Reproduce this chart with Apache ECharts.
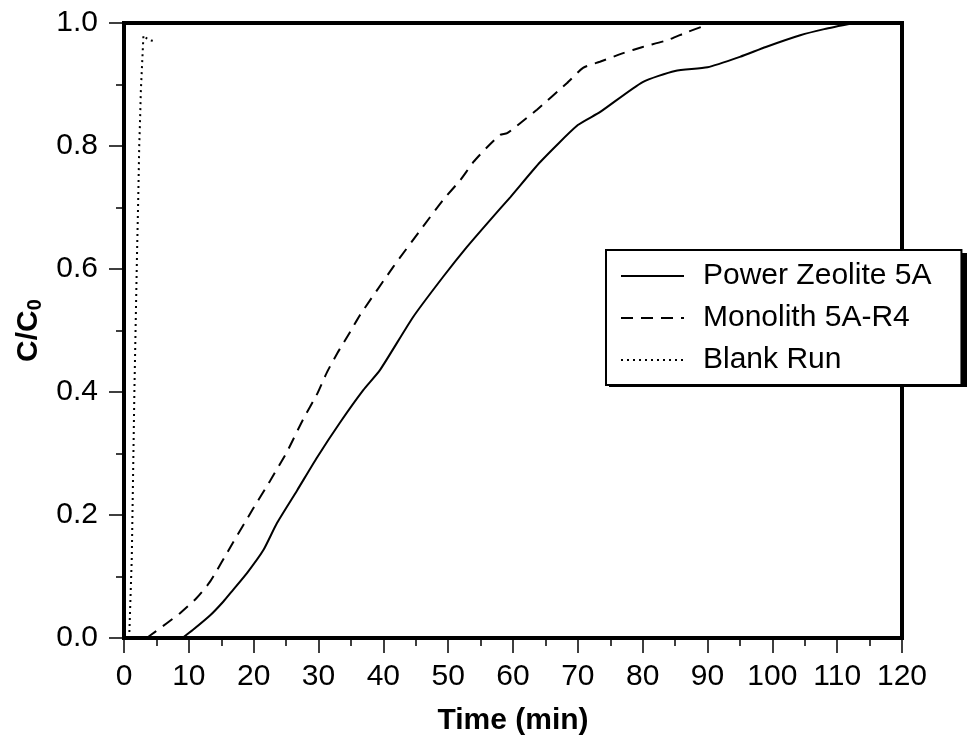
<!DOCTYPE html>
<html>
<head>
<meta charset="utf-8">
<script src="https://cdn.jsdelivr.net/npm/echarts@6/dist/echarts.min.js"></script>
<style>html,body{margin:0;padding:0;background:#fff;}#c{width:971px;height:750px;}</style>
</head>
<body>
<div id="c"></div>
<script>
// Power Zeolite 5A (solid)
const zeoT = [9, 10.6, 13.3, 15.3, 16.8, 19, 21.5, 23.6, 26.7, 29.8, 33.3, 36.9, 39.5, 44.6, 49.2, 52.9, 56.5, 59.6, 64.2, 70, 73.4, 80, 85, 90, 95, 99, 104.3, 108, 112.5];
const zeoY = [0, 0.013, 0.037, 0.059, 0.078, 0.106, 0.143, 0.187, 0.24, 0.294, 0.35, 0.403, 0.436, 0.522, 0.587, 0.636, 0.68, 0.717, 0.774, 0.834, 0.855, 0.904, 0.922, 0.928, 0.945, 0.961, 0.98, 0.99, 1.0];
// Monolith 5A-R4 (dashed)
const monoT = [3.5, 4.8, 6.6, 8.6, 11.2, 13.3, 16.8, 19.9, 22.5, 25.1, 27.6, 29.8, 31.3, 32.9, 34.9, 36.4, 41.5, 45.7, 49.2, 51.9, 53.9, 56, 58, 59.1, 61.1, 63.7, 68.3, 70.8, 73.4, 77, 80, 83.8, 86.8, 89.4, 90.5];
const monoY = [0, 0.01, 0.024, 0.04, 0.065, 0.092, 0.155, 0.21, 0.255, 0.302, 0.355, 0.397, 0.432, 0.463, 0.498, 0.525, 0.603, 0.663, 0.712, 0.745, 0.774, 0.798, 0.818, 0.821, 0.837, 0.859, 0.902, 0.927, 0.937, 0.951, 0.961, 0.972, 0.985, 0.995, 1.0];
// Blank Run (dotted)
const blankT = [0.8, 1.2, 1.6, 2.0, 2.2, 2.35, 2.5, 2.6, 2.8, 3.0, 3.5, 4.0, 4.9];
const blankY = [0, 0.13, 0.40, 0.62, 0.717, 0.80, 0.85, 0.89, 0.935, 0.98, 0.975, 0.972, 0.97];

const seriesNames = ['Power Zeolite 5A', 'Monolith 5A-R4', 'Blank Run'];
const xTicks = [0, 120, 10];
const yTicks = [0, 1, 0.2];

const zip = (a, b) => a.map((v, i) => [v, b[i]]);
const FONT = '"Liberation Sans", Arial, sans-serif';

const chart = echarts.init(document.getElementById('c'), null, {renderer: 'canvas'});
chart.setOption({
  animation: false,
  backgroundColor: '#fff',
  grid: {left: 124, right: 69, top: 23, bottom: 112, show: true, borderColor: '#000', borderWidth: 4, containLabel: false},
  graphic: [{
    type: 'rect', z: 1, left: 609, top: 253,
    shape: {width: 358, height: 134},
    style: {fill: '#000'}
  }],
  legend: {
    orient: 'vertical', left: 606, top: 250, z: 10,
    data: seriesNames,
    backgroundColor: '#fff', borderColor: '#000', borderWidth: 2,
    padding: [10, 30, 9, 14],
    itemWidth: 63, itemHeight: 14, itemGap: 10,
    itemStyle: {opacity: 0, borderWidth: 0},
    textStyle: {fontFamily: FONT, fontSize: 30, color: '#000', lineHeight: 32, padding: [0, 0, 0, 14]},
    selectedMode: false
  },
  xAxis: {
    type: 'value', min: xTicks[0], max: xTicks[1], interval: xTicks[2],
    name: 'Time (min)', nameLocation: 'middle', nameGap: 68,
    nameTextStyle: {fontFamily: FONT, fontSize: 30, fontWeight: 'bold', color: '#000'},
    axisLine: {show: true, onZero: false, lineStyle: {color: '#000', width: 4}},
    axisTick: {show: true, inside: false, length: 15, lineStyle: {color: '#000', width: 1.5}},
    minorTick: {show: true, splitNumber: 2, length: 8, lineStyle: {color: '#000', width: 1.5}},
    axisLabel: {fontFamily: FONT, fontSize: 30, color: '#000', margin: 24},
    splitLine: {show: false}
  },
  yAxis: {
    type: 'value', min: yTicks[0], max: yTicks[1], interval: yTicks[2],
    name: '{a|C/C}{s|0}', nameLocation: 'middle', nameGap: 76, nameRotate: 90,
    nameTextStyle: {rich: {
      a: {fontFamily: FONT, fontSize: 30, fontWeight: 'bold', color: '#000'},
      s: {fontFamily: FONT, fontSize: 20, fontWeight: 'bold', color: '#000', verticalAlign: 'bottom', padding: [14, 0, 0, 0]}
    }},
    axisLine: {show: true, onZero: false, lineStyle: {color: '#000', width: 4}},
    axisTick: {show: true, inside: false, length: 15, lineStyle: {color: '#000', width: 1.5}},
    minorTick: {show: true, splitNumber: 2, length: 8, lineStyle: {color: '#000', width: 1.5}},
    axisLabel: {fontFamily: FONT, fontSize: 30, color: '#000', margin: 26, formatter: v => v.toFixed(1)},
    splitLine: {show: false}
  },
  series: [
    {name: seriesNames[0], type: 'line', data: zip(zeoT, zeoY), symbol: 'none', smooth: 0.2,
     lineStyle: {color: '#000', width: 2, type: 'solid'}, itemStyle: {color: '#000'}},
    {name: seriesNames[1], type: 'line', data: zip(monoT, monoY), symbol: 'none', smooth: 0.2,
     lineStyle: {color: '#000', width: 2, type: [12, 8]}, itemStyle: {color: '#000'}},
    {name: seriesNames[2], type: 'line', data: zip(blankT, blankY), symbol: 'none',
     lineStyle: {color: '#000', width: 2, type: [2, 4]}, itemStyle: {color: '#000'}}
  ]
});
</script>
</body>
</html>
